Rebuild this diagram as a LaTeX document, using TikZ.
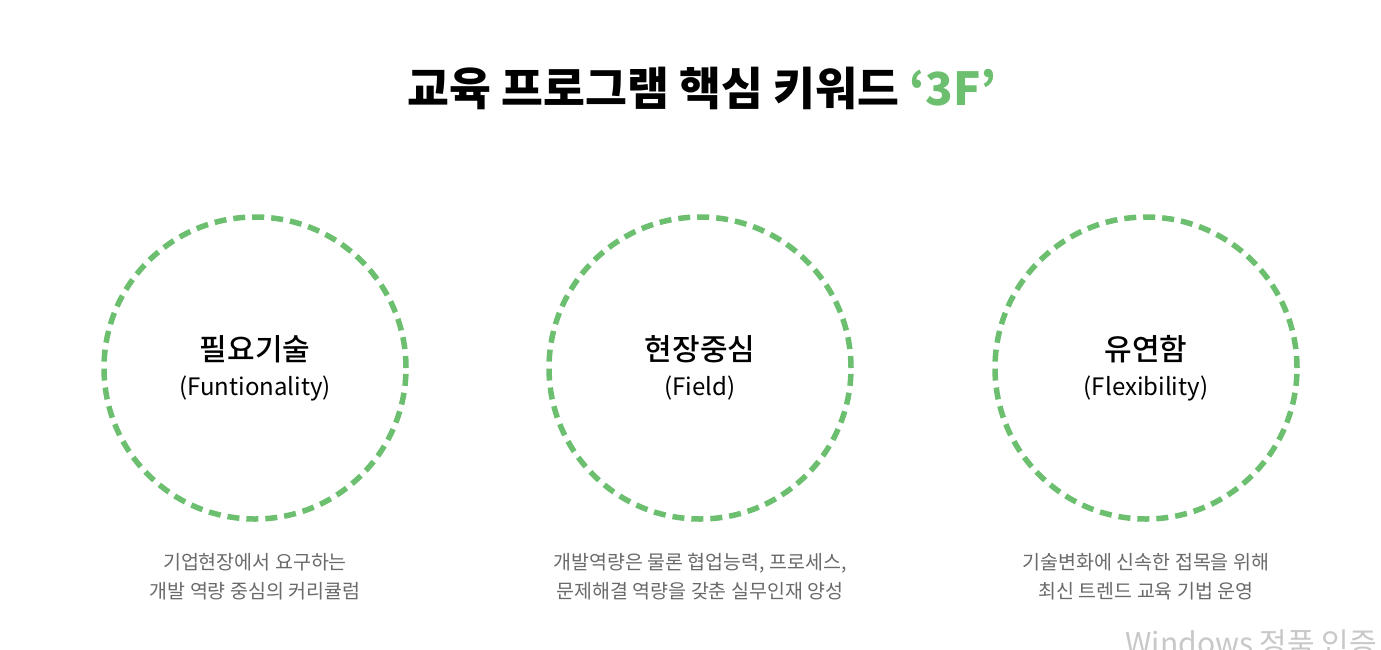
\documentclass[tikz,border=0pt]{standalone}
\usepackage{fontspec}
\setmainfont{Noto Sans CJK KR}
\newfontfamily\keymedium{Noto Sans CJK KR Medium}
\definecolor{keygreen}{HTML}{6CBF6F}
\definecolor{desctext}{HTML}{6A6A6A}
\definecolor{markgray}{HTML}{C8C8C8}
\tikzset{
  keyring/.style={circle, draw=keygreen, line width=5.5pt,
                  dash pattern=on 12pt off 7pt, minimum size=302pt, inner sep=0pt},
  keyname/.style={font=\keymedium\fontsize{30}{34}\selectfont},
  keysub/.style={font=\fontsize{24}{28}\selectfont},
  desc/.style={font=\fontsize{19.5}{29}\selectfont, text=desctext, align=center},
}

\begin{document}
\begin{tikzpicture}[x=1pt, y=-1pt]
    \useasboundingbox[fill=white] (0,0) rectangle (1381,649);
    \node[font=\bfseries\fontsize{45.5}{50}\selectfont] (title) at (702,88)
      {교육 프로그램 핵심 키워드 \textcolor{keygreen}{‘3F’}};
    \node[keyring] (ring1) at (255,368) {};
    \node[keyring] (ring2) at (700,368) {};
    \node[keyring] (ring3) at (1146,368) {};
    \node[keyname] (name1) at (255,349) {필요기술};
    \node[keysub] (sub1) at (255,388) {(Funtionality)};
    \node[keyname] (name2) at (700,349) {현장중심};
    \node[keysub] (sub2) at (700,388) {(Field)};
    \node[keyname] (name3) at (1146,349) {유연함};
    \node[keysub] (sub3) at (1146,388) {(Flexibility)};
    \node[desc] (desc1) at (255,577) {기업현장에서 요구하는\\개발 역량 중심의 커리큘럼};
    \node[desc] (desc2) at (700,577) {개발역량은 물론 협업능력, 프로세스,\\문제해결 역량을 갖춘 실무인재 양성};
    \node[desc] (desc3) at (1146,577) {기술변화에 신속한 접목을 위해\\최신 트렌드 교육 기법 운영};
    \node[anchor=base west, font=\fontsize{30}{30}\selectfont, text=markgray] (mark)
      at (1122,654) {Windows 정품 인증};
  \end{tikzpicture}
\end{document}
